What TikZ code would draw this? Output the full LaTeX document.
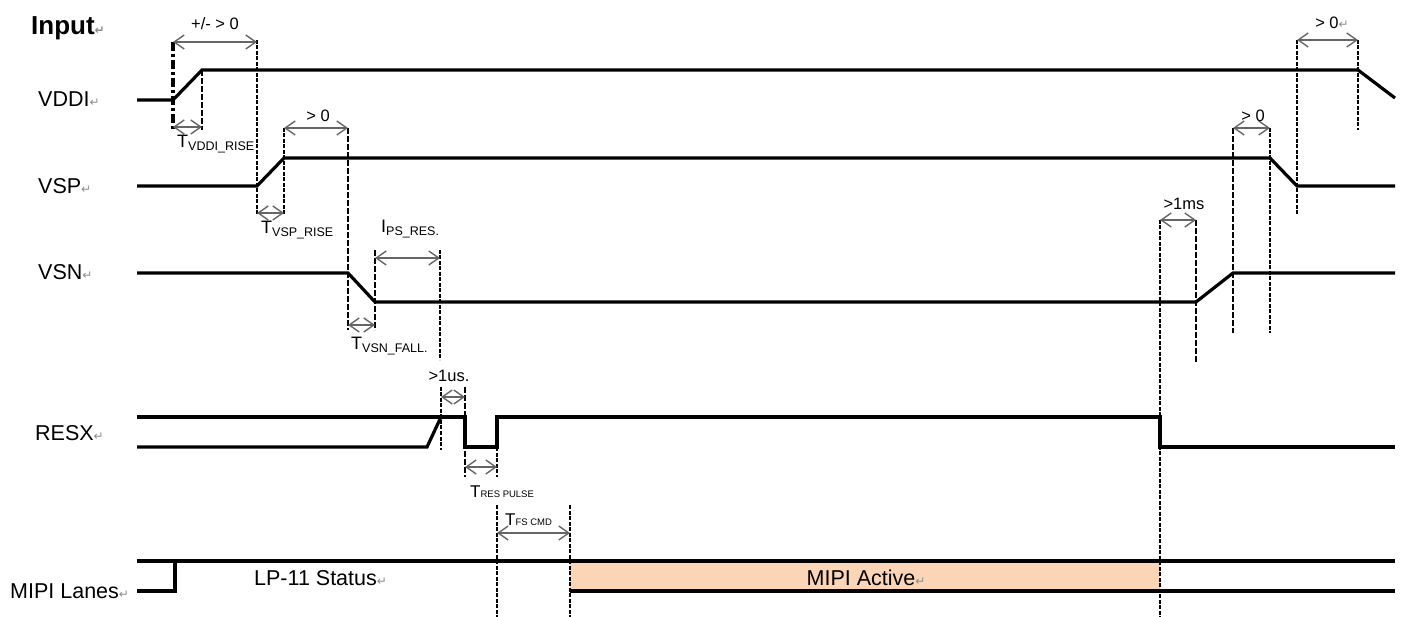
\documentclass[tikz,border=0pt]{standalone}
\usepackage{fontspec}
\setmainfont{Liberation Sans}
\newfontfamily\markfont{DejaVu Sans}
\usetikzlibrary{arrows.meta}

\definecolor{mipifill}{HTML}{FBD5B5}
\newcommand{\retmark}{{\markfont\color{black!45}\fontsize{12}{12}\selectfont ↵}}
\newcommand{\sigfont}{\fontsize{21.5}{24}\selectfont}
\newcommand{\dimfont}{\fontsize{16.5}{18}\selectfont}
\newcommand{\subfont}{\fontsize{12.5}{14}\selectfont}
\newcommand{\capfont}{\fontsize{9.5}{11}\selectfont}

\begin{document}
\begin{tikzpicture}[x=1pt, y=-1pt,
    sig/.style={line width=3.2pt},
    guide/.style={line width=1.9pt, dash pattern=on 4pt off 1.5pt},
    guidethin/.style={line width=1.2pt, dash pattern=on 6pt off 2pt},
    dimline/.style={black!60, line width=1.4pt,
        {Straight Barb[length=10pt,width=14pt]}-{Straight Barb[length=10pt,width=14pt]}},
    signame/.style={anchor=base west, inner sep=0pt, font=\sigfont},
    dimlabel/.style={inner sep=0pt, font=\dimfont}]
    \useasboundingbox (0,0) rectangle (1403,617);

    % signal names
    \node[signame, font=\fontsize{26}{28}\selectfont\bfseries] (input) at (31,35) {Input\retmark};
    \node[signame] (vddi) at (38,107) {VDDI\retmark};
    \node[signame] (vsp) at (38,194) {VSP\retmark};
    \node[signame] (vsn) at (38,280) {VSN\retmark};
    \node[signame] (resx) at (35,440) {RESX\retmark};
    \node[signame] (mipi) at (10,598) {MIPI Lanes\retmark};

    % MIPI active window
    \fill[mipifill] (570,561) rectangle (1160,591);

    % waveforms
    \draw[sig] (137,100) -- (173,100) -- (202,70) -- (1358,70) -- (1395,98);
    \draw[sig] (137,186) -- (257,186) -- (284,158) -- (1270,158) -- (1297,186) -- (1395,186);
    \draw[sig] (137,273) -- (348,273) -- (375,302) -- (1196,302) -- (1233,273) -- (1395,273);
    \draw[sig] (137,447) -- (427,447) -- (441,417);
    \draw[sig] (137,417) -- (465,417) -- (465,447) -- (497,447) -- (497,417) -- (1160,417) -- (1160,447) -- (1395,447);
    \draw[sig] (137,591) -- (175,591) -- (175,561);
    \draw[sig] (137,561) -- (1395,561);
    \draw[sig] (570,591) -- (1395,591);

    % timing guides
    \draw[line width=3.8pt, dash pattern=on 9pt off 3pt on 3pt off 3pt] (173,42) -- (173,129);
    \foreach \xx/\ya/\yb in {257/40/215, 284/128/215, 440/250/360, 441/387/450, 497/447/477,
        497/505/617, 570/505/617, 1160/220/617, 1270/128/333, 1297/40/215, 1358/40/130}
    {
        \draw[guide] (\xx,\ya) -- (\xx,\yb);
    }
    \foreach \xx/\ya/\yb in {202/70/130, 348/128/330, 375/250/330, 465/387/477, 1196/220/362, 1233/128/333}
    {
        \draw[guidethin] (\xx,\ya) -- (\xx,\yb);
    }

    % dimension arrows
    \foreach \xa/\xb/\yy in {173/257/42, 173/202/127, 284/348/128, 257/284/213, 375/440/258, 348/375/325,
        441/465/397, 465/497/467, 497/570/533, 1160/1196/220, 1233/1270/128, 1297/1358/40}
    {
        \draw[dimline] (\xa,\yy) -- (\xb,\yy);
    }

    % timing labels
    \node[dimlabel] (pm) at (215,24) {+/- > 0};
    \node[dimlabel] (gtA) at (318,116) {> 0};
    \node[dimlabel] (gtB) at (1253,116) {> 0};
    \node[dimlabel] (gtC) at (1332,23) {> 0\retmark};
    \node[dimlabel] (us) at (449,376) {>1us.};
    \node[dimlabel] (ms) at (1184,204) {>1ms};
    \node[signame, font=\fontsize{18}{20}\selectfont] (tvddi) at (177,148) {T\raisebox{-2.5pt}{\subfont VDDI\_RISE}};
    \node[signame, font=\fontsize{18}{20}\selectfont] (tvsp) at (261,234) {T\raisebox{-2.5pt}{\subfont VSP\_RISE}};
    \node[signame, font=\fontsize{18}{20}\selectfont] (ips) at (381,233) {I\raisebox{-2.5pt}{\subfont PS\_RES.}};
    \node[signame, font=\fontsize{18}{20}\selectfont] (tvsn) at (351,350) {T\raisebox{-2.5pt}{\subfont VSN\_FALL.}};
    \node[signame, font=\fontsize{17}{20}\selectfont] (tres) at (470,497) {T{\capfont RES PULSE}};
    \node[signame, font=\fontsize{17}{20}\selectfont] (tfs) at (505,525) {T{\capfont FS CMD}};

    % lane states
    \node[signame] (lp) at (254,585) {LP-11 Status\retmark};
    \node[signame, anchor=base] (active) at (866,585) {MIPI Active\retmark};
\end{tikzpicture}
\end{document}
